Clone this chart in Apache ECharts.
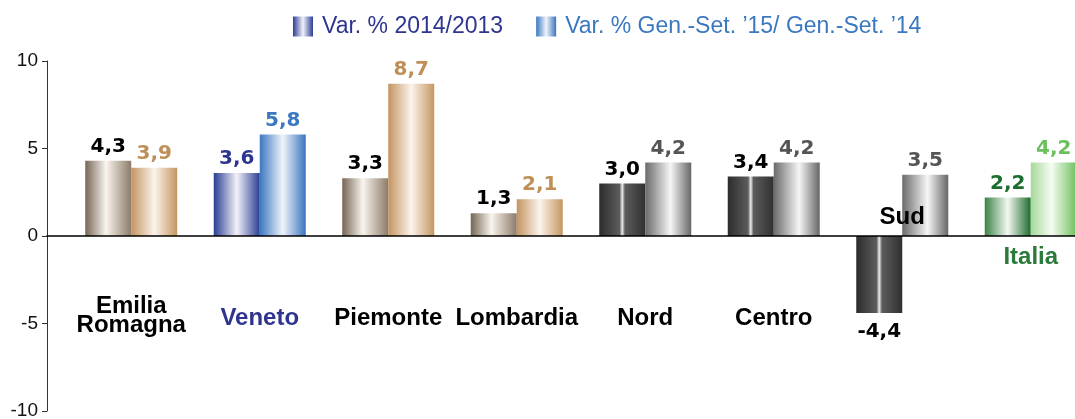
<!DOCTYPE html>
<html>
<head>
<meta charset="utf-8">
<title>Var. %</title>
<script src="https://cdn.jsdelivr.net/npm/echarts@6/dist/echarts.min.js"></script>
<style>
  html, body { margin: 0; padding: 0; background: #fff; }
  #chart { width: 1075px; height: 419px; }
</style>
</head>
<body>
<div id="chart"></div>
<script>
// dati
var categories = ['Emilia\nRomagna', 'Veneto', 'Piemonte', 'Lombardia', 'Nord', 'Centro', 'Sud', 'Italia'];
var seriesNames = ['Var. % 2014/2013', 'Var. % Gen.-Set. \u201915/ Gen.-Set. \u201914'];
var var2014 = [4.3, 3.6, 3.3, 1.3, 3.0, 3.4, -4.4, 2.2];
var varGenSet = [3.9, 5.8, 8.7, 2.1, 4.2, 4.2, 3.5, 4.2];
var yTicks = [-10, -5, 0, 5, 10];

// stili
function grad(stops) {
    return new echarts.graphic.LinearGradient(0, 0, 1, 0, stops.map(function (s) {
        return { offset: s[0], color: s[1] };
    }));
}
var palette = {
    brown: [[0, '#766553'], [0.45, '#f8f5f0'], [0.55, '#e6ded4'], [1, '#8b7b6a']],
    tan: [[0, '#c39460'], [0.5, '#fbf4ec'], [1, '#c59661']],
    darkblue: [[0, '#2a3d92'], [0.5, '#f2f2fa'], [1, '#2a3d92']],
    blue: [[0, '#3a77c0'], [0.5, '#f0f4fb'], [1, '#3a74bd']],
    dark: [[0, '#2c2c2c'], [0.44, '#5c5c5c'], [0.5, '#ececec'], [0.56, '#5c5c5c'], [1, '#303030']],
    grey: [[0, '#6a6a6a'], [0.55, '#f6f6f6'], [1, '#666666']],
    darkgreen: [[0, '#3a8246'], [0.5, '#f4f8f2'], [1, '#1c6b2b']],
    lightgreen: [[0, '#a6d99a'], [0.45, '#f6fbf3'], [1, '#6cc05c']]
};
var fill1 = ['brown', 'darkblue', 'brown', 'brown', 'dark', 'dark', 'dark', 'darkgreen'];
var fill2 = ['tan', 'blue', 'tan', 'tan', 'grey', 'grey', 'grey', 'lightgreen'];
var text1 = ['#000', '#2e3590', '#000', '#000', '#000', '#000', '#000', '#1b6e2e'];
var text2 = ['#be9058', '#3a78c0', '#be9058', '#be9058', '#555', '#555', '#555', '#6cc05c'];
var catColor = ['#000', '#2e3590', '#000', '#000', '#000', '#000', '#000', '#2a7a3a'];
var catDrop = [92, 101, 101, 101, 101, 101, 0, 40];

function fmt(v) {
    return v.toFixed(1).replace('.', ',');
}

function items(values, fills, colors) {
    return values.map(function (v, i) {
        return {
            value: v,
            itemStyle: { color: grad(palette[fills[i]]) },
            label: v < 0
                ? { color: colors[i], position: 'bottom', distance: 9 }
                : { color: colors[i], position: 'top' }
        };
    });
}

var rich = {};
catColor.forEach(function (c, i) {
    rich['c' + i] = {
        fontFamily: 'Liberation Sans', fontWeight: 'bold', fontSize: 24,
        color: c, lineHeight: i === 0 ? 19 : 24
    };
});
catDrop.forEach(function (d) {
    rich['d' + d] = { fontSize: 1, lineHeight: d };
});

var myChart = echarts.init(document.getElementById('chart'));

var valueLabel = {
    show: true, distance: 4,
    fontFamily: 'DejaVu Sans', fontWeight: 'bold', fontSize: 20,
    formatter: function (p) { return fmt(p.value); }
};

var option = {
    animation: false,
    legend: {
        left: 293,
        top: 15,
        padding: 0,
        icon: 'rect',
        itemWidth: 20,
        itemHeight: 20,
        itemGap: 33,
        textStyle: { fontFamily: 'Liberation Sans', fontSize: 23, lineHeight: 20, padding: [0, 0, 0, 4] },
        data: [
            { name: seriesNames[0], textStyle: { color: '#2e3590' } },
            { name: seriesNames[1], textStyle: { color: '#3a78c0' } }
        ]
    },
    grid: [
        // barre
        { left: 67, right: -20, top: 61, bottom: 8, containLabel: false, outerBoundsMode: 'none' },
        // assi
        { left: 47, right: 0, top: 61, bottom: 8, containLabel: false, outerBoundsMode: 'none' }
    ],
    xAxis: [
        {
            type: 'category',
            gridIndex: 0,
            data: categories,
            z: 5,
            axisTick: { show: false },
            axisLine: { show: false },
            axisLabel: {
                interval: 0,
                margin: -206,
                rich: rich,
                formatter: function (value, idx) {
                    var lines = value.split('\n').map(function (l) {
                        return '{c' + idx + '|' + l + '}';
                    });
                    var d = catDrop[idx];
                    return (d ? '{d' + d + '| }\n' : '') + lines.join('\n');
                }
            }
        },
        {
            type: 'value',
            gridIndex: 1,
            min: 0,
            max: 1,
            z: 5,
            axisLine: { show: true, onZero: true, lineStyle: { color: '#000', width: 1.5 } },
            axisTick: { show: false },
            axisLabel: { show: false },
            splitLine: { show: false }
        }
    ],
    yAxis: [
        {
            type: 'value',
            gridIndex: 0,
            min: yTicks[0],
            max: yTicks[yTicks.length - 1],
            interval: 5,
            show: false
        },
        {
            type: 'value',
            gridIndex: 1,
            min: yTicks[0],
            max: yTicks[yTicks.length - 1],
            interval: 5,
            splitLine: { show: false },
            axisLine: { show: true, onZero: false, lineStyle: { color: '#333', width: 1 } },
            axisTick: { show: true, length: 5, lineStyle: { color: '#333' } },
            axisLabel: { fontFamily: 'Liberation Sans', fontSize: 19, color: '#111', margin: 9 }
        }
    ],
    series: [
        {
            name: seriesNames[0],
            type: 'bar',
            xAxisIndex: 0,
            yAxisIndex: 0,
            barWidth: 46,
            barGap: '0%',
            itemStyle: { color: grad(palette.darkblue) },
            label: valueLabel,
            data: items(var2014, fill1, text1)
        },
        {
            name: seriesNames[1],
            type: 'bar',
            xAxisIndex: 0,
            yAxisIndex: 0,
            barWidth: 46,
            barGap: '0%',
            itemStyle: { color: grad(palette.blue) },
            label: valueLabel,
            data: items(varGenSet, fill2, text2)
        }
    ]
};

myChart.setOption(option);
</script>
</body>
</html>
